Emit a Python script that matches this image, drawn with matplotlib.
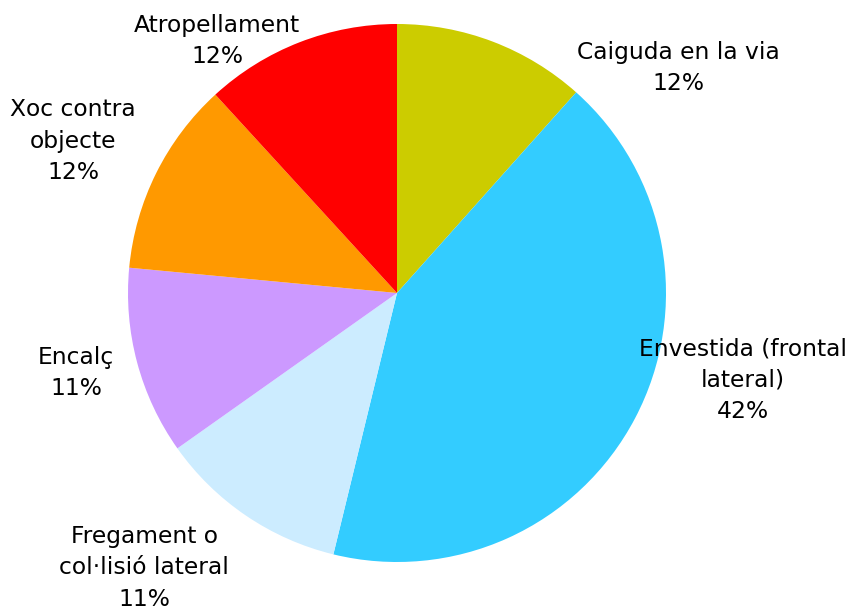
import numpy as np
import matplotlib.pyplot as plt

# accident types and their share (%)
labels = ['Caiguda en la via', 'Envestida (frontal\nlateral)', 'Fregament o\ncol\u00b7lisió lateral',
          'Encalç', 'Xoc contra\nobjecte', 'Atropellament']
values = [11.6, 42.2, 11.4, 11.3, 11.7, 11.8]
pct_text = ['12%', '42%', '11%', '11%', '12%', '12%']
colors = ['#CCCC00', '#33CCFF', '#CCECFF', '#CC99FF', '#FF9900', '#FF0000']

# label anchor positions (in radius units, relative to pie centre)
label_pos = [(1.045, 0.835), (1.285, -0.325), (-0.94, -1.022), (-1.193, -0.297), (-1.204, 0.565), (-0.669, 0.937)]

W, H = 849, 612
cx, cy, R = 397, 293, 269

fig = plt.figure(figsize=(W / 100, H / 100), dpi=100)
ax = fig.add_axes([0, 0, 1, 1])

ax.pie(values, colors=colors, startangle=90, counterclock=False, radius=1,
       wedgeprops=dict(linewidth=0))

for lab, pct, (x, y) in zip(labels, pct_text, label_pos):
    ax.text(x, y, lab + '\n' + pct, ha='center', va='center', fontsize=16.8,
            family='DejaVu Sans', color='black', linespacing=1.45)

ax.set_xlim(-cx / R, (W - cx) / R)
ax.set_ylim(-(H - cy) / R, cy / R)
ax.set_aspect('equal')
ax.axis('off')

fig.savefig('out.png', dpi=100)
